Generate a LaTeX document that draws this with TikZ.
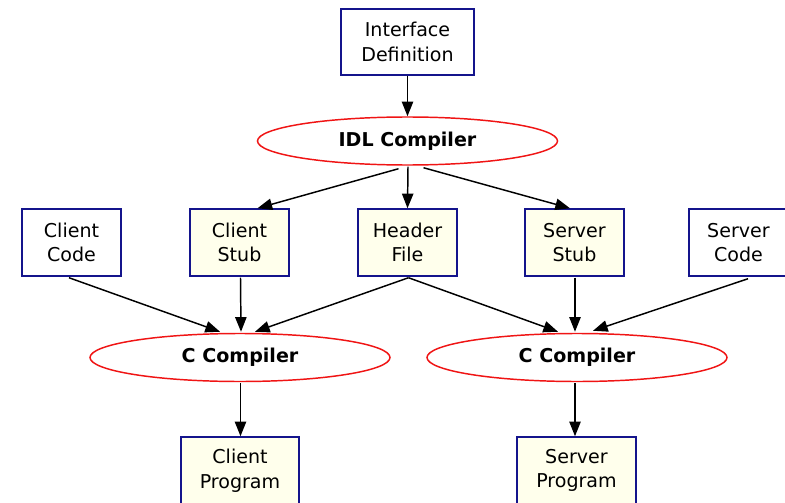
\documentclass[tikz,border=0pt]{standalone}
\usepackage{fontspec}
\setmainfont{DejaVu Sans}
\usetikzlibrary{arrows.meta,shapes.geometric,calc}
\definecolor{boxblue}{RGB}{20,20,140}
\definecolor{ivory}{RGB}{255,255,236}
\definecolor{ellred}{RGB}{240,20,20}
\begin{document}
\begin{tikzpicture}[x=0.75pt,y=-0.75pt,
  every node/.style={font=\fontsize{14.3}{18.5}\selectfont, align=center, inner sep=0pt},
  plainbox/.style={draw=boxblue, line width=1.1pt, fill=white, rectangle, minimum width=74.25pt, minimum height=50.25pt},
  genbox/.style={plainbox, fill=ivory},
  tool/.style={draw=ellred, line width=1.1pt, fill=white, ellipse, minimum width=225pt, minimum height=36pt, font=\fontsize{14.3}{18}\selectfont\bfseries},
  flow/.style={draw=black, line width=1.1pt, -{Triangle[length=11pt,width=8.5pt]}}]
\useasboundingbox (0,0) rectangle (785,503);
\clip (0,0) rectangle (785,503);
\fill[white] (0,0) rectangle (785,503);

\node[plainbox, minimum width=99.75pt, minimum height=49.5pt] (idef) at (407.5,42) {Interface\\Definition};
\node[tool] (idl) at (407.5,141) {IDL Compiler};

\node[plainbox] (ccode) at (71.5,242.5) {Client\\Code};
\node[genbox] (cstub) at (239.5,242.5) {Client\\Stub};
\node[genbox] (header) at (407.5,242.5) {Header\\File};
\node[genbox] (sstub) at (574.5,242.5) {Server\\Stub};
\node[plainbox] (scode) at (738.5,242.5) {Server\\Code};

\node[tool] (cc1) at (240,357.5) {C Compiler};
\node[tool] (cc2) at (577,357.5) {C Compiler};

\node[genbox, minimum width=88.5pt] (cprog) at (240,470.5) {Client\\Program};
\node[genbox, minimum width=89.25pt] (sprog) at (576.5,470.5) {Server\\Program};

\draw[flow] (idef.south) -- (idl.north);
\draw[flow] ($(idl.south)+(-9,3)$) -- ($(cstub.north)+(18,0)$);
\draw[flow] ($(idl.south)+(0.5,1)$) -- (header.north);
\draw[flow] ($(idl.south)+(16,2)$) -- ($(sstub.north)+(-4.5,0)$);

\draw[flow] ($(ccode.south)+(-2.5,1)$) -- ($(cc1.north)+(-20,-1)$);
\draw[flow] ($(cstub.south)+(1,1)$) -- ($(cc1.north)+(1,-1)$);
\draw[flow] ($(header.south)+(1,1)$) -- ($(cc1.north)+(15,-1)$);
\draw[flow] ($(header.south)+(1,1)$) -- ($(cc2.north)+(-19,-1)$);
\draw[flow] ($(sstub.south)+(0.5,1)$) -- ($(cc2.north)+(-2,-1)$);
\draw[flow] ($(scode.south)+(9.5,2)$) -- ($(cc2.north)+(16,-2)$);

\draw[flow] ($(cc1.south)+(0.5,1)$) -- ($(cprog.north)+(0.5,0)$);
\draw[flow] ($(cc2.south)+(-2,1)$) -- ($(sprog.north)+(-1.5,0)$);
\end{tikzpicture}
\end{document}
